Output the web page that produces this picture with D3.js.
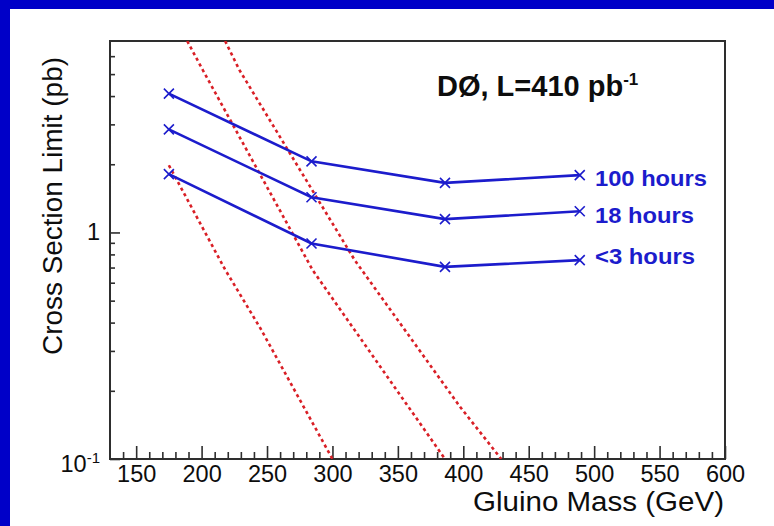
<!DOCTYPE html>
<html>
<head>
<meta charset="utf-8">
<script src="https://cdn.jsdelivr.net/npm/d3@7"></script>
<style>
  html, body { margin: 0; padding: 0; background: #0000c8; }
  svg { display: block; }
  text { font-family: "Liberation Sans", Arial, Helvetica, sans-serif; }
</style>
</head>
<body>
<svg id="chart" width="774" height="526"></svg>
<script>
// Gluino masses (GeV) at which the limits were evaluated
const masses = [175, 284, 386, 489];
// 95% CL cross section limits (pb) for each run duration
const limit100h = [4.10, 2.06, 1.655, 1.79];
const limit18h  = [2.85, 1.43, 1.145, 1.24];
const limit3h   = [1.81, 0.894, 0.705, 0.755];
const seriesLabels = ["100 hours", "18 hours", "<3 hours"];

// Theoretical cross section curves (dashed red)
const theoryMassA = [175, 218, 245, 300];
const theoryXsecA = [1.98, 0.685, 0.377, 0.1];
const theoryMassB = [189, 201, 285, 386];
const theoryXsecB = [7.0, 5.2, 0.68, 0.1];
const theoryMassC = [218, 229, 317, 397.5, 429];
const theoryXsecC = [7.0, 5.2, 0.755, 0.17, 0.1];

// Axis ticks
const xMajorTicks = [150, 200, 250, 300, 350, 400, 450, 500, 550, 600];
const xMinorTicks = d3.range(140, 600, 10).filter(v => v % 50 !== 0);
const yMinorTicks = [0.2, 0.3, 0.4, 0.5, 0.6, 0.7, 0.8, 0.9, 2, 3, 4, 5, 6];

const svg = d3.select("#chart");
const W = 774, H = 526;

// white canvas inside the blue slide border
svg.append("rect").attr("x", 10).attr("y", 9).attr("width", W - 10).attr("height", H - 9).attr("fill", "#ffffff");

const plotLeft = 110, plotTop = 41, plotRight = 725, plotBottom = 459;
const x = d3.scaleLinear().domain([130, 600]).range([plotLeft, plotRight]);
const y = d3.scaleLog().domain([0.1, 7]).range([plotBottom, plotTop]);

const axisColor = "#2e2e2e";
const ink = "#0d0d0d";

// clip for curves
svg.append("clipPath").attr("id", "plotClip")
  .append("rect").attr("x", plotLeft).attr("y", plotTop)
  .attr("width", plotRight - plotLeft).attr("height", plotBottom - plotTop);

// x axis ticks
const gx = svg.append("g").attr("transform", `translate(0,${plotBottom})`);
gx.call(d3.axisBottom(x).tickValues(xMajorTicks).tickSize(-13).tickFormat(d3.format("d")));
gx.select(".domain").remove();
gx.selectAll(".tick line").attr("stroke", axisColor).attr("stroke-width", 1.6);
gx.selectAll(".tick text").attr("fill", ink).attr("font-size", 23.5)
  .attr("font-family", "'Liberation Sans', Arial, sans-serif").attr("y", 23).attr("dy", 0);
const gxm = svg.append("g").attr("transform", `translate(0,${plotBottom})`);
gxm.call(d3.axisBottom(x).tickValues(xMinorTicks).tickSize(-7).tickFormat(""));
gxm.select(".domain").remove();
gxm.selectAll(".tick line").attr("stroke", axisColor).attr("stroke-width", 1.6);

// y axis ticks
const gy = svg.append("g").attr("transform", `translate(${plotLeft},0)`);
gy.call(d3.axisLeft(y).tickValues([0.1, 1]).tickSize(-10).tickFormat(""));
gy.select(".domain").remove();
gy.selectAll(".tick line").attr("stroke", axisColor).attr("stroke-width", 1.6);
const gym = svg.append("g").attr("transform", `translate(${plotLeft},0)`);
gym.call(d3.axisLeft(y).tickValues(yMinorTicks).tickSize(-5).tickFormat(""));
gym.select(".domain").remove();
gym.selectAll(".tick line").attr("stroke", axisColor).attr("stroke-width", 1.6);

// y tick labels
const lab01 = svg.append("text").attr("x", 100).attr("y", y(0.1) + 13)
  .attr("text-anchor", "end").attr("font-size", 23.5).attr("fill", ink);
lab01.append("tspan").text("10");
lab01.append("tspan").attr("dy", -9).attr("font-size", 15).text("-1");
svg.append("text").attr("x", 100).attr("y", y(1) + 8).attr("text-anchor", "end")
  .attr("font-size", 23.5).attr("fill", ink).text("1");

// frame
svg.append("rect").attr("x", plotLeft).attr("y", plotTop)
  .attr("width", plotRight - plotLeft).attr("height", plotBottom - plotTop)
  .attr("fill", "none").attr("stroke", axisColor).attr("stroke-width", 2);

// theory curves
const red = "#d91f26";
const lineGen = d3.line().x(d => x(d[0])).y(d => y(d[1]));
[[theoryMassA, theoryXsecA], [theoryMassB, theoryXsecB], [theoryMassC, theoryXsecC]].forEach(([m, s]) => {
  svg.append("path")
    .datum(m.map((v, i) => [v, s[i]]))
    .attr("clip-path", "url(#plotClip)")
    .attr("d", lineGen)
    .attr("fill", "none").attr("stroke", red).attr("stroke-width", 2.6)
    .attr("stroke-dasharray", "3.2,3.2");
});

// limit curves with cross markers and run-duration labels
const blue = "#1c1ccc";
const series = [limit100h, limit18h, limit3h];
const labelDy = [11, 12, 3.5];
const labelWidth = [112, 99, 100];
series.forEach((vals, k) => {
  const pts = masses.map((m, i) => [m, vals[i]]);
  svg.append("path").datum(pts).attr("d", lineGen)
    .attr("fill", "none").attr("stroke", blue).attr("stroke-width", 2.6);
  const s = 5;
  svg.append("g").selectAll("path").data(pts).join("path")
    .attr("d", d => {
      const cx = x(d[0]), cy = y(d[1]);
      return `M${cx - s},${cy - s}L${cx + s},${cy + s}M${cx - s},${cy + s}L${cx + s},${cy - s}`;
    })
    .attr("stroke", blue).attr("stroke-width", 1.6).attr("fill", "none");
  const last = pts[pts.length - 1];
  svg.append("text").attr("x", 595).attr("y", y(last[1]) + labelDy[k])
    .attr("font-size", 22.5).attr("font-weight", "bold").attr("fill", blue)
    .attr("textLength", labelWidth[k]).attr("lengthAdjust", "spacingAndGlyphs")
    .text(seriesLabels[k]);
});

// title
const title = svg.append("text").attr("x", 437).attr("y", 96)
  .attr("font-size", 29).attr("font-weight", "bold").attr("fill", ink);
title.append("tspan").text("DØ, L=410 pb");
title.append("tspan").attr("dy", -11).attr("font-size", 17).text("-1");

// axis titles
svg.append("text").attr("x", 473).attr("y", 511)
  .attr("font-size", 27).attr("fill", ink)
  .attr("textLength", 251).attr("lengthAdjust", "spacingAndGlyphs")
  .text("Gluino Mass (GeV)");
svg.append("text").attr("transform", "translate(62,355) rotate(-90)")
  .attr("font-size", 27.5).attr("fill", ink)
  .attr("textLength", 298).attr("lengthAdjust", "spacingAndGlyphs")
  .text("Cross Section Limit (pb)");
</script>
</body>
</html>
